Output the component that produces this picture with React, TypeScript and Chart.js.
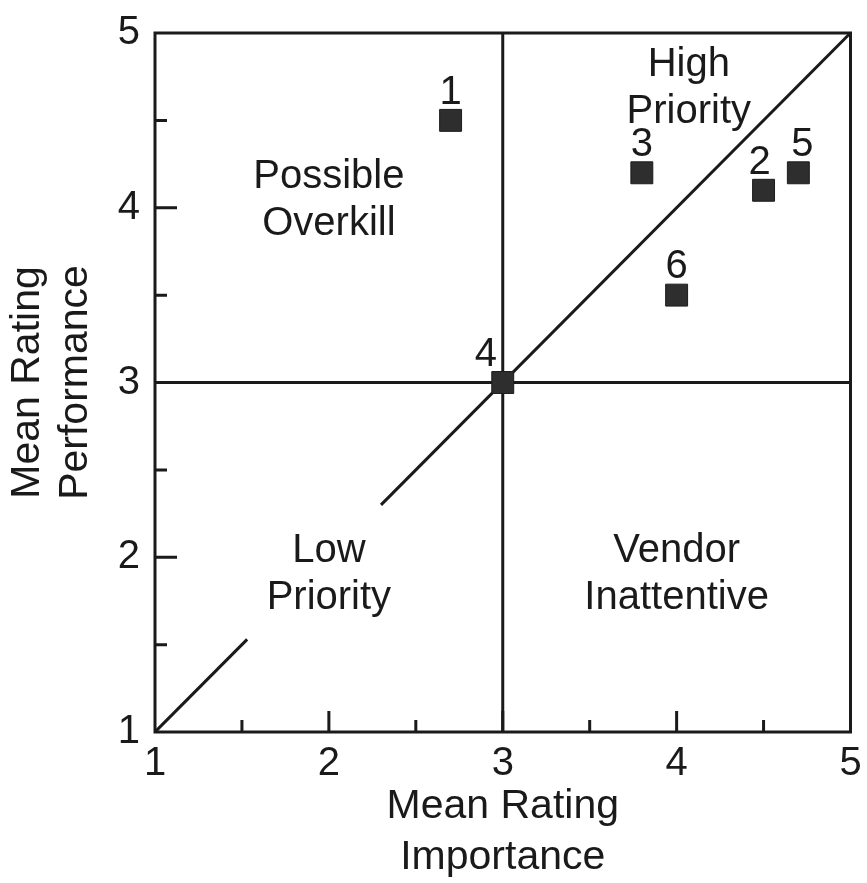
import React, { useEffect, useRef } from 'react';
import { Chart, registerables } from 'chart.js';

Chart.register(...registerables);

// Data
const pointIds = ['1', '2', '3', '4', '5', '6'];
const importance = [2.7, 4.5, 3.8, 3.0, 4.7, 4.0];
const performance = [4.5, 4.1, 4.2, 3.0, 4.2, 3.5];
const tickValues = [1, 2, 3, 4, 5];
const halfTicks = [1.5, 2.5, 3.5, 4.5];
const wholeTicks = [2, 3, 4];
const diagonalLow = [1, 1.53];
const diagonalHigh = [2.3, 5];
const quadrantText = [['Possible', 'Overkill'], ['High', 'Priority'], ['Low', 'Priority'], ['Vendor', 'Inattentive']];
const quadrantX = [2.0, 4.07, 2.0, 4.0];
const quadrantY = [4.06, 4.7, 1.92, 1.92];
const xTitle = ['Mean Rating', 'Importance'];
const yTitle = ['Mean Rating', 'Performance'];

const FONT = "'Liberation Sans', Arial, Helvetica, sans-serif";
const INK = '#1a1a1a';
const FS = 40;
const TFS = 41;

const labelDx: Record<string, number> = { '4': -17, '2': -4, '5': 4 };

const overlay = {
  id: 'overlay',
  afterDatasetsDraw(chart: any) {
    const { ctx, chartArea, scales } = chart;
    const xs = scales.x;
    const ys = scales.y;
    ctx.save();
    // frame
    ctx.strokeStyle = INK;
    ctx.lineWidth = 3;
    ctx.strokeRect(chartArea.left, chartArea.top, chartArea.right - chartArea.left, chartArea.bottom - chartArea.top);
    // inward ticks
    ctx.lineWidth = 3;
    ctx.beginPath();
    for (const v of wholeTicks) {
      const px = xs.getPixelForValue(v);
      ctx.moveTo(px, chartArea.bottom);
      ctx.lineTo(px, chartArea.bottom - 21);
      const py = ys.getPixelForValue(v);
      ctx.moveTo(chartArea.left, py);
      ctx.lineTo(chartArea.left + 22, py);
    }
    for (const v of halfTicks) {
      const px = xs.getPixelForValue(v);
      ctx.moveTo(px, chartArea.bottom);
      ctx.lineTo(px, chartArea.bottom - 12);
      const py = ys.getPixelForValue(v);
      ctx.moveTo(chartArea.left, py);
      ctx.lineTo(chartArea.left + 12, py);
    }
    ctx.stroke();
    // quadrant text
    ctx.fillStyle = INK;
    ctx.font = `${FS}px ${FONT}`;
    ctx.textAlign = 'center';
    ctx.textBaseline = 'alphabetic';
    const gap = 47;
    const cap = FS * 0.716;
    quadrantText.forEach((lines, i) => {
      const cx = xs.getPixelForValue(quadrantX[i]);
      const cy = ys.getPixelForValue(quadrantY[i]);
      const b1 = cy - gap / 2 + cap / 2;
      lines.forEach((t, j) => ctx.fillText(t, cx, b1 + j * gap));
    });
    // point numbers
    pointIds.forEach((id, i) => {
      const px = xs.getPixelForValue(importance[i]) + (labelDx[id] || 0);
      const py = ys.getPixelForValue(performance[i]) - 31;
      ctx.fillText(id, px, py + cap / 2);
    });
    ctx.restore();
  },
};

const zeroPad = (s: any) => {
  s.paddingTop = 0;
  s.paddingBottom = 0;
  s.paddingLeft = 0;
  s.paddingRight = 0;
};

export default function App() {
  const ref = useRef<HTMLCanvasElement>(null);
  useEffect(() => {
    const canvas = ref.current;
    if (!canvas) return;
    const lineStyle = {
      type: 'scatter' as const,
      showLine: true,
      borderColor: INK,
      borderWidth: 3,
      pointRadius: 0,
      pointHoverRadius: 0,
      fill: false,
      order: 2,
    };
    const chart = new Chart(canvas, {
      type: 'scatter',
      data: {
        datasets: [
          {
            label: 'points',
            data: importance.map((x, i) => ({ x, y: performance[i] })),
            pointStyle: 'rect',
            pointRadius: 15.5,
            backgroundColor: '#2e2e2e',
            borderColor: '#1c1c1c',
            borderWidth: 1,
            order: 0,
          } as any,
          { ...lineStyle, label: 'vertical', data: [{ x: 3, y: 1 }, { x: 3, y: 5 }] },
          { ...lineStyle, label: 'horizontal', data: [{ x: 1, y: 3 }, { x: 5, y: 3 }] },
          { ...lineStyle, label: 'diag1', data: diagonalLow.map((v) => ({ x: v, y: v })) },
          { ...lineStyle, label: 'diag2', data: diagonalHigh.map((v) => ({ x: v, y: v })) },
        ],
      },
      options: {
        responsive: false,
        animation: false,
        events: [],
        layout: { padding: { top: 33, right: 13, left: 0, bottom: 0 } },
        plugins: { legend: { display: false }, tooltip: { enabled: false } },
        scales: {
          x: {
            type: 'linear',
            min: 1,
            max: 5,
            afterFit: (s: any) => { s.height = 151; zeroPad(s); },
            afterBuildTicks: (s: any) => { s.ticks = tickValues.map((v) => ({ value: v })); },
            grid: { display: false, drawTicks: false },
            border: { display: false },
            ticks: { color: INK, font: { family: FONT, size: FS }, padding: 8, maxRotation: 0 },
            title: { display: true, text: xTitle, color: INK, font: { family: FONT, size: TFS, lineHeight: 1.24 }, padding: { top: 0, bottom: 0 } },
          },
          y: {
            type: 'linear',
            min: 1,
            max: 5,
            afterFit: (s: any) => { s.width = 155; zeroPad(s); },
            afterBuildTicks: (s: any) => { s.ticks = tickValues.map((v) => ({ value: v })); },
            grid: { display: false, drawTicks: false },
            border: { display: false },
            ticks: { color: INK, font: { family: FONT, size: FS }, padding: 15 },
            title: { display: true, text: yTitle, color: INK, font: { family: FONT, size: TFS, lineHeight: 1.17 }, padding: { top: 4, bottom: 0 } },
          },
        },
      } as any,
      plugins: [overlay],
    });
    return () => chart.destroy();
  }, []);
  return (
    <div style={{ position: 'absolute', left: 0, top: 0, width: 867, height: 883, background: '#fff' }}>
      <canvas ref={ref} width={867} height={883} />
    </div>
  );
}
